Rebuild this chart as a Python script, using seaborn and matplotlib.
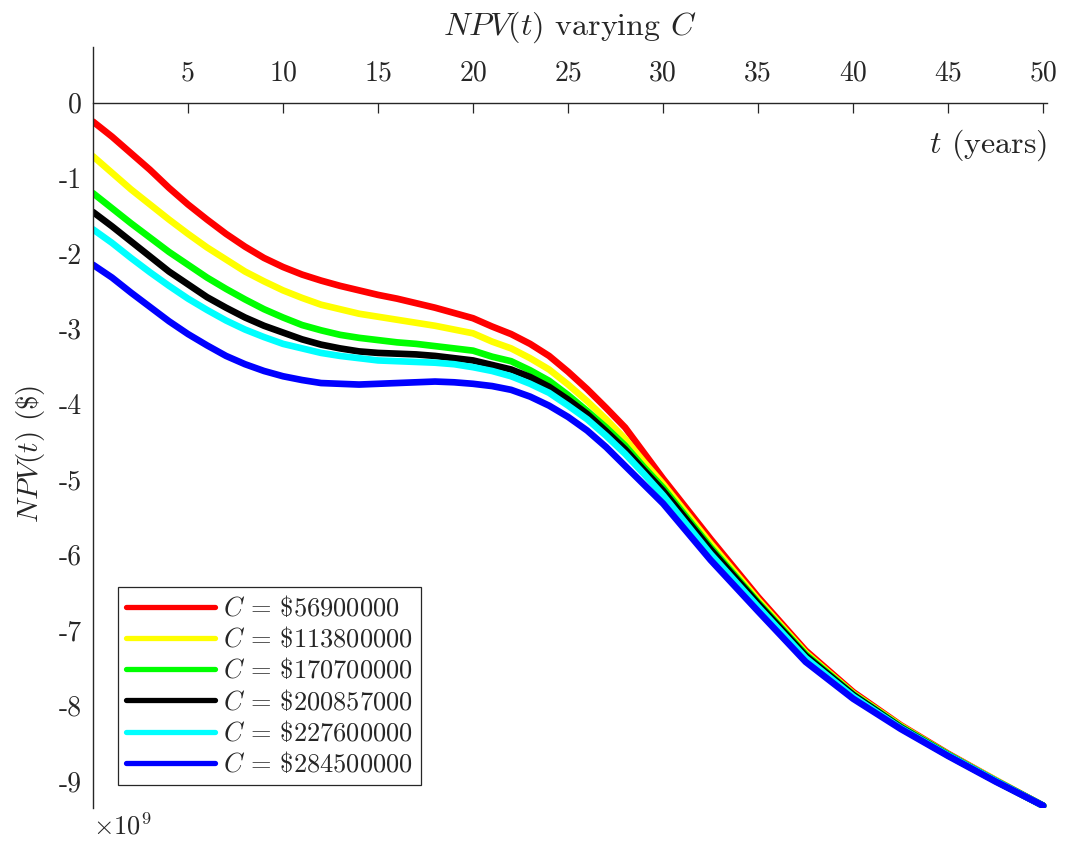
import numpy as np
import pandas as pd
import matplotlib
matplotlib.use('Agg')
import matplotlib.pyplot as plt
import seaborn as sns

# 数据：时间（年）与各 C 值下的 NPV(t)（单位 1e9 $）
t = list(range(0, 31)) + [32.5, 35, 37.5, 40, 42.5, 45, 47.5, 50]
c_values = ['56900000', '113800000', '170700000', '200857000', '227600000', '284500000']
npv_red = [-0.25, -0.45, -0.67, -0.89, -1.13, -1.35, -1.55, -1.74, -1.91, -2.06,
           -2.18, -2.28, -2.36, -2.43, -2.49, -2.55, -2.60, -2.66, -2.72, -2.79,
           -2.86, -2.97, -3.07, -3.20, -3.36, -3.57, -3.80, -4.05, -4.31, -4.65,
           -4.99, -5.79, -6.56, -7.27, -7.82, -8.26, -8.64, -8.99, -9.33]
npv_yellow = [-0.71, -0.93, -1.15, -1.35, -1.55, -1.74, -1.92, -2.08, -2.24, -2.37,
              -2.49, -2.59, -2.68, -2.74, -2.80, -2.84, -2.88, -2.92, -2.96, -3.01,
              -3.06, -3.17, -3.26, -3.39, -3.54, -3.74, -3.96, -4.20, -4.46, -4.77,
              -5.06, -5.85, -6.60, -7.30, -7.84, -8.27, -8.65, -8.99, -9.33]
npv_green = [-1.20, -1.40, -1.60, -1.79, -1.98, -2.15, -2.32, -2.47, -2.61, -2.74,
             -2.85, -2.95, -3.02, -3.08, -3.12, -3.15, -3.18, -3.20, -3.23, -3.26,
             -3.29, -3.37, -3.43, -3.55, -3.69, -3.88, -4.09, -4.31, -4.55, -4.84,
             -5.11, -5.90, -6.63, -7.32, -7.85, -8.28, -8.65, -9.00, -9.33]
npv_black = [-1.45, -1.64, -1.84, -2.04, -2.24, -2.41, -2.58, -2.72, -2.85, -2.96,
             -3.05, -3.14, -3.21, -3.26, -3.30, -3.32, -3.33, -3.34, -3.36, -3.39,
             -3.42, -3.48, -3.54, -3.64, -3.77, -3.94, -4.13, -4.36, -4.60, -4.88,
             -5.15, -5.93, -6.65, -7.34, -7.86, -8.29, -8.66, -9.00, -9.33]
npv_cyan = [-1.68, -1.86, -2.06, -2.25, -2.43, -2.60, -2.75, -2.89, -3.01, -3.11,
            -3.20, -3.26, -3.32, -3.36, -3.39, -3.42, -3.43, -3.44, -3.45, -3.47,
            -3.51, -3.56, -3.63, -3.73, -3.85, -4.02, -4.20, -4.42, -4.66, -4.93,
            -5.21, -5.99, -6.69, -7.37, -7.88, -8.30, -8.66, -9.00, -9.33]
npv_blue = [-2.15, -2.32, -2.52, -2.71, -2.90, -3.07, -3.22, -3.36, -3.47, -3.56,
            -3.63, -3.68, -3.72, -3.73, -3.74, -3.73, -3.72, -3.71, -3.70, -3.71,
            -3.73, -3.76, -3.81, -3.90, -4.02, -4.17, -4.35, -4.57, -4.82, -5.07,
            -5.32, -6.07, -6.75, -7.42, -7.91, -8.31, -8.67, -9.01, -9.33]
colors = ['#ff0000', '#ffff00', '#00ff00', '#000000', '#00ffff', '#0000ff']

series = [npv_red, npv_yellow, npv_green, npv_black, npv_cyan, npv_blue]
labels = [r'$C$ = \$' + c for c in c_values]
df = pd.concat([pd.DataFrame({'t': t, 'npv': s, 'C': lab}) for s, lab in zip(series, labels)],
               ignore_index=True)

sns.set_style('white')
plt.rcParams['font.family'] = ['cmr10', 'DejaVu Serif']
plt.rcParams['mathtext.fontset'] = 'cm'
plt.rcParams['axes.unicode_minus'] = False
plt.rcParams['axes.formatter.use_mathtext'] = True

gray = '#262626'
fig = plt.figure(figsize=(10.66, 8.41), dpi=100)
ax = fig.add_axes([93 / 1066, 1 - 808 / 841, 954 / 1066, 761 / 841])

sns.lineplot(data=df, x='t', y='npv', hue='C', palette=colors, linewidth=4.8,
             estimator=None, sort=False, ax=ax)

ax.set_xlim(0, 50.2)
ax.set_ylim(-9.36, 0.74)

# x 轴放在 y=0 处，刻度标签在上方
ax.spines['bottom'].set_visible(False)
ax.spines['right'].set_visible(False)
ax.spines['top'].set_position(('data', 0))
ax.spines['top'].set_color(gray)
ax.spines['left'].set_color(gray)
ax.spines['top'].set_linewidth(1.0)
ax.spines['left'].set_linewidth(1.0)
ax.xaxis.set_ticks_position('top')
ax.xaxis.set_label_position('top')

xt = list(range(5, 51, 5))
ax.set_xticks(xt, [str(v) for v in xt])
yt = list(range(0, -10, -1))
ax.set_yticks(yt, [str(v) for v in yt])
ax.tick_params(axis='both', direction='in', length=7, width=0.9, colors=gray,
               labelsize=20, labelcolor=gray)
ax.tick_params(axis='x', pad=12)
ax.tick_params(axis='y', pad=8)

ax.set_xlabel(r'$t$ (years)', fontsize=23, color=gray)
ax.xaxis.set_label_coords(1.0, 0.871)
ax.xaxis.label.set_ha('right')
ax.xaxis.label.set_va('center')
ax.set_ylabel(r'$NPV(t)$ (\$)', fontsize=21, color=gray)
ax.yaxis.set_label_coords(-0.066, 0.466)
ax.yaxis.label.set_va('center')
ax.set_title(r'$NPV(t)$ varying $C$', fontsize=23, color=gray, pad=9)

ax.text(0.0, -0.006, r'$\times10^9$', transform=ax.transAxes, ha='left', va='top',
        fontsize=19, color=gray)

leg = ax.legend(loc='lower left', bbox_to_anchor=(0.026, 0.03), fontsize=19,
                frameon=True, fancybox=False, framealpha=1, edgecolor=gray,
                handlelength=3.4, handletextpad=0.3, labelspacing=0.2,
                borderpad=0.3, borderaxespad=0)
leg.get_frame().set_linewidth(0.9)
for h in leg.get_lines():
    h.set_linewidth(3.8)

fig.savefig('out.png', dpi=100)
